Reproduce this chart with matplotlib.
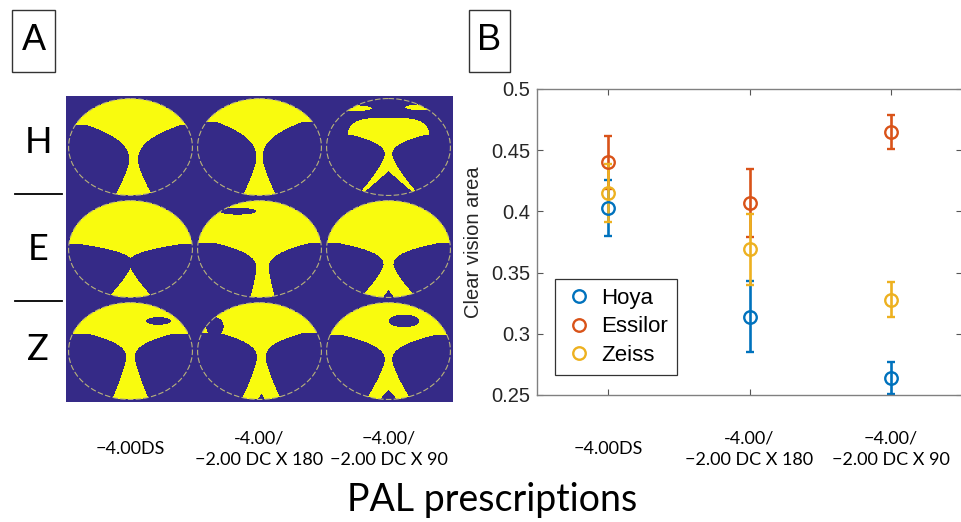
import matplotlib.pyplot as plt
import numpy as np
from matplotlib.colors import ListedColormap
from matplotlib.lines import Line2D
from matplotlib.patches import Ellipse, Rectangle
from matplotlib.transforms import blended_transform_factory

# panel B data
x_pos = [1, 2, 3]
hoya_mean = [0.403, 0.314, 0.264]
hoya_err = [0.023, 0.029, 0.013]
essilor_mean = [0.440, 0.407, 0.465]
essilor_err = [0.022, 0.028, 0.014]
zeiss_mean = [0.415, 0.369, 0.328]
zeiss_err = [0.024, 0.029, 0.014]
brands = ["Hoya", "Essilor", "Zeiss"]
prescriptions = ["\u22124.00DS", "-4.00/\n\u22122.00 DC X 180", "\u22124.00/\n\u22122.00 DC X 90"]
row_labels = ["H", "E", "Z"]

# panel A lens maps (order H1..H3, E1..E3, Z1..Z3), normalised lens coordinates
cap_level = [0.45, 0.52, 0.25, 0.10, 0.12, 0.12, 0.36, 0.38, 0.32]
cap_top = [3, 3, 0.60, 3, 3, 3, 3, 3, 3]
cap_width = [3, 3, 0.66, 3, 3, 3, 3, 3, 3]
neck_level = [-0.30, -0.25, -0.17, -0.30, -0.40, -0.33, -0.14, -0.15, -0.20]
neck_width = [0.07, 0.05, 0.06, -0.03, 0.10, 0.08, 0.07, 0.07, 0.06]
flare_width = [0.75, 0.70, 0.60, 0.80, 0.75, 0.80, 0.70, 0.70, 0.72]
foot_width = [0.30, 0.27, 0.50, 0.36, 0.20, 0.45, 0.30, 0.32, 0.36]
stem_shift = [0.05, 0.0, 0.0, 0.0, 0.05, 0.0, 0.0, 0.03, 0.0]
notch_level = [-2, -2, -0.50, -2, -2, -0.85, -2, -0.88, -0.80]
notch_slope = [0, 0, 0.9, 0, 0, 0.6, 0, 0.5, 0.7]
hole_lens = [4, 6, 8, 7]
hole_u = [-0.35, 0.45, 0.25, -0.72]
hole_v = [0.78, 0.62, 0.62, 0.50]
hole_ru = [0.30, 0.20, 0.25, 0.14]
hole_rv = [0.07, 0.08, 0.13, 0.20]
blob_lens = [2, 2]
blob_u = [-0.55, 0.55]
blob_v = [0.80, 0.82]
blob_ru = [0.28, 0.28]
blob_rv = [0.06, 0.06]

navy = "#352A87"
yellow = "#F9FB0E"
colors = ["#0072BD", "#D95319", "#EDB120"]
calibri_like = ["Lato", "DejaVu Sans"]
arial_like = ["Liberation Sans", "DejaVu Sans"]

fig = plt.figure(figsize=(9.61, 5.22), dpi=100)

# ---- panel A ----
ax_a = fig.add_axes([66 / 961, 1 - 402 / 522, 387 / 961, 306 / 522])
rows, cols = 306, 387
gx = (np.arange(cols) + 0.5) / cols * 3
gy = (np.arange(rows) + 0.5) / rows * 3
X, Y = np.meshgrid(gx, gy)
rx, ry = 0.48, 0.475
mask = np.zeros((rows, cols))
for i in range(9):
    r, c = divmod(i, 3)
    u = (X - (c + 0.5)) / rx
    v = -(Y - (r + 0.5)) / ry
    inside = u ** 2 + v ** 2 < 1
    nv, nw = neck_level[i], neck_width[i]
    up = np.clip((v - nv) / (cap_level[i] - nv), 0, None)
    down = np.clip((nv - v) / (nv + 1), 0, None)
    hw = np.where(v >= nv, nw + (flare_width[i] - nw) * up ** 2.5,
                  nw + (foot_width[i] - nw) * down ** 1.3)
    du = np.abs(u - stem_shift[i])
    stem = du < hw
    notch = (v < notch_level[i]) & (du < notch_slope[i] * (notch_level[i] - v))
    cap = (u / cap_width[i]) ** 4 + ((v - cap_level[i]) / (cap_top[i] - cap_level[i])) ** 2 < 1
    lens = np.where(v > cap_level[i], cap, stem & ~notch)
    for k, hl in enumerate(hole_lens):
        if hl == i:
            lens &= ((u - hole_u[k]) / hole_ru[k]) ** 2 + ((v - hole_v[k]) / hole_rv[k]) ** 2 > 1
    for k, bl in enumerate(blob_lens):
        if bl == i:
            lens |= ((u - blob_u[k]) / blob_ru[k]) ** 2 + ((v - blob_v[k]) / blob_rv[k]) ** 2 < 1
    mask[inside & lens] = 1

ax_a.imshow(mask, cmap=ListedColormap([navy, yellow]), extent=(0, 3, 3, 0),
            aspect="auto", interpolation="nearest", vmin=0, vmax=1)
for i in range(9):
    r, c = divmod(i, 3)
    ax_a.add_patch(Ellipse((c + 0.5, r + 0.5), 2 * rx, 2 * ry, fill=False,
                           edgecolor="#B8B27A", lw=0.8, linestyle=(0, (5, 2))))
ax_a.set_xlim(0, 3)
ax_a.set_ylim(3, 0)
ax_a.axis("off")

for k, lab in enumerate(row_labels):
    fig.text(38 / 961, 1 - [142, 250, 350][k] / 522, lab, fontsize=26,
             family=calibri_like, ha="center", va="center")
for yl in [194, 301]:
    fig.add_artist(Line2D([15 / 961, 62 / 961], [1 - yl / 522] * 2, color="black", lw=1.3))

# ---- panel B ----
ax_b = fig.add_axes([537 / 961, 1 - 395 / 522, 425 / 961, 306 / 522])
for mean, err, col in zip([hoya_mean, essilor_mean, zeiss_mean],
                          [hoya_err, essilor_err, zeiss_err], colors):
    ax_b.errorbar(x_pos, mean, yerr=err, fmt="o", mfc="none", mec=col, color=col,
                  ms=9, mew=1.7, elinewidth=1.9, capsize=3, capthick=1.9)
ax_b.set_xlim(0.5, 3.5)
ax_b.set_ylim(0.25, 0.5)
ax_b.set_xticks(x_pos)
ax_b.set_xticklabels([])
ax_b.set_yticks([0.25, 0.3, 0.35, 0.4, 0.45, 0.5])
ax_b.set_yticklabels(["0.25", "0.3", "0.35", "0.4", "0.45", "0.5"], family=arial_like)
ax_b.tick_params(direction="in", top=True, right=True, length=4, width=0.8,
                 color="#555555", labelsize=14.5, labelcolor="#262626", pad=5)
for sp in ax_b.spines.values():
    sp.set_color("#808080")
    sp.set_linewidth(1.0)
ax_b.set_ylabel("Clear vision area", fontsize=14.5, family=arial_like, color="#262626")
ax_b.yaxis.set_label_coords((483 - 537) / 425, 0.5)

handles = [Line2D([], [], ls="none", marker="o", mfc="none", mec=col, ms=9, mew=1.7)
           for col in colors]
leg = ax_b.legend(handles, brands, loc="lower left", bbox_to_anchor=(0.042, 0.065),
                  borderaxespad=0, fancybox=False, edgecolor="#333333", framealpha=1,
                  prop={"family": arial_like, "size": 16}, handlelength=1.4,
                  handletextpad=0.3, labelspacing=0.35, borderpad=0.4)
leg.get_frame().set_linewidth(0.9)

# x labels for both panels
for ax in (ax_a, ax_b):
    tr = blended_transform_factory(ax.transData, fig.transFigure)
    xs = [0.5, 1.5, 2.5] if ax is ax_a else x_pos
    for xp, lab in zip(xs, prescriptions):
        ax.text(xp, 1 - 449 / 522, lab, transform=tr, ha="center", va="center",
                fontsize=13, family=calibri_like, linespacing=1.45)

fig.text(492 / 961, 1 - 500 / 522, "PAL prescriptions", fontsize=27,
         family=calibri_like, ha="center", va="center")

# panel letters
for x0, w, lab in [(12, 43, "A"), (469, 41, "B")]:
    fig.add_artist(Rectangle((x0 / 961, 1 - 72 / 522), w / 961, 62 / 522,
                             fill=False, edgecolor="#333333", lw=1.0))
    fig.text((x0 + w / 2) / 961, 1 - 41 / 522, lab, fontsize=26, family=arial_like,
             ha="center", va="center")

fig.savefig("out.png", dpi=100)
